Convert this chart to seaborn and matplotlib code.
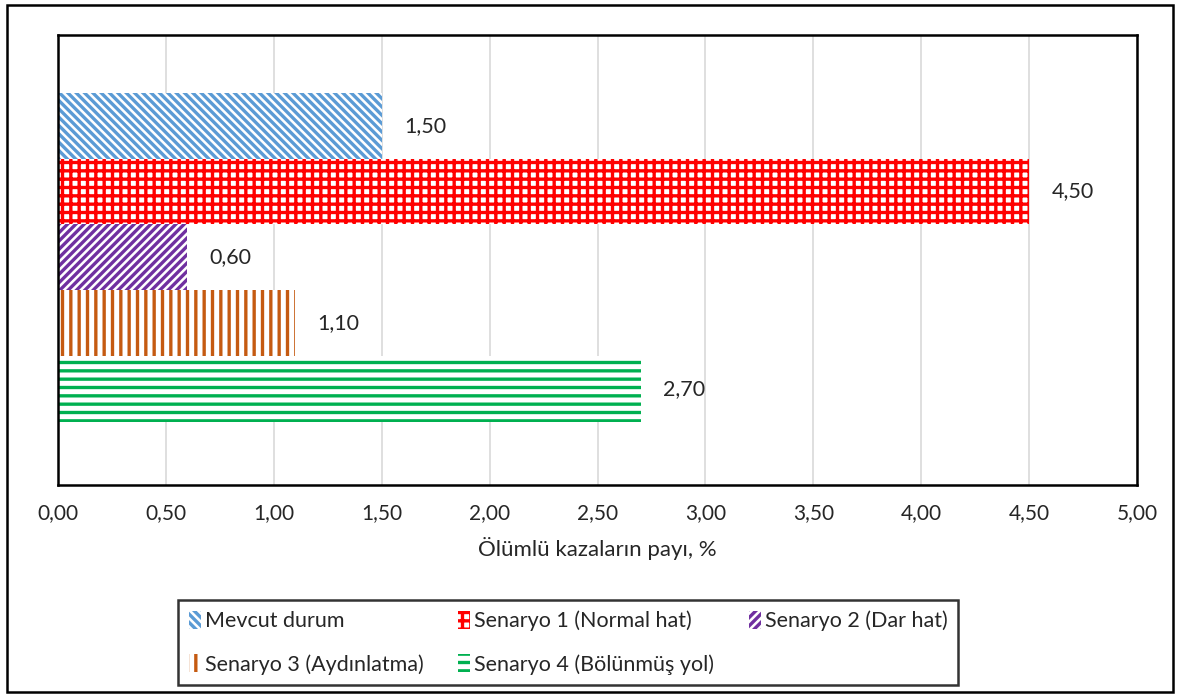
import matplotlib
matplotlib.use("Agg")
import matplotlib.pyplot as plt
import seaborn as sns
import pandas as pd
from matplotlib.patches import Patch, Rectangle

# data
categories = ["Mevcut durum", "Senaryo 1 (Normal hat)", "Senaryo 2 (Dar hat)",
              "Senaryo 3 (Aydınlatma)", "Senaryo 4 (Bölünmüş yol)"]
values = [1.50, 4.50, 0.60, 1.10, 2.70]
colors = ["#5B9BD5", "#FF0000", "#7030A0", "#C55A11", "#00B050"]
hatches = ["\\\\\\\\", "++", "////", "||", "--"]
xticks = [0, 0.5, 1, 1.5, 2, 2.5, 3, 3.5, 4, 4.5, 5]

sns.set_style("white")
plt.rcParams["font.family"] = ["Lato", "DejaVu Sans"]
plt.rcParams["hatch.linewidth"] = 2.4

df = pd.DataFrame({"cat": categories, "val": values})

fig = plt.figure(figsize=(11.8, 6.97), dpi=100)
ax = fig.add_axes([58 / 1180, 1 - 485 / 697, (1137 - 58) / 1180, (485 - 35) / 697])

sns.barplot(data=df, x="val", y="cat", hue="cat", palette=colors, width=1.0,
            legend=False, orient="h", ax=ax)

for patch, c, h in zip(ax.patches, colors, hatches):
    patch.set_facecolor("white")
    patch.set_edgecolor(c)
    patch.set_hatch(h)
    patch.set_linewidth(0)

for cont, v in zip(ax.containers, values):
    ax.bar_label(cont, labels=[f"{v:.2f}".replace(".", ",")], padding=16, fontsize=15.5)

ax.set_xlim(0, 5)
ax.set_ylim(4.5 + 0.96, -0.5 - 0.88)
ax.set_xticks(xticks)
ax.set_xticklabels([f"{t:.2f}".replace(".", ",") for t in xticks], fontsize=15)
ax.set_yticks([])
ax.set_ylabel("")
ax.set_xlabel("Ölümlü kazaların payı, %", fontsize=16, labelpad=10)
ax.tick_params(axis="x", length=0, pad=13)
ax.grid(axis="x", color="#D9D9D9", linewidth=1.2)
ax.set_axisbelow(True)
for s in ax.spines.values():
    s.set_color("black")
    s.set_linewidth(1.8)

handles = [Patch(facecolor="white", edgecolor=c, hatch=h, linewidth=0, label=l)
           for l, c, h in zip(categories, colors, hatches)]
order = [0, 3, 1, 4, 2]
leg = fig.legend([handles[i] for i in order], [categories[i] for i in order],
                 loc="upper left", bbox_to_anchor=(178 / 1180, 1 - 600 / 697),
                 borderaxespad=0, ncol=3, fontsize=15.5, frameon=True, fancybox=False,
                 handlelength=0.55, handleheight=0.9, handletextpad=0.2,
                 columnspacing=1.6, labelspacing=1.05, borderpad=0.5)
leg.get_frame().set_edgecolor("black")
leg.get_frame().set_linewidth(1.8)

fig.patches.append(Rectangle((7 / 1180, 5 / 697), 1166 / 1180, 687 / 697,
                             transform=fig.transFigure, fill=False,
                             edgecolor="black", linewidth=1.8))

fig.savefig("out.png", dpi=100)
